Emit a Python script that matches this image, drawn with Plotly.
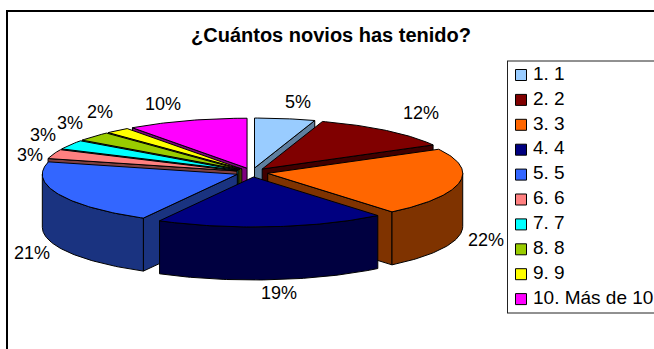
import math
import plotly.graph_objects as go

TITLE = "¿Cuántos novios has tenido?"
categories = ["1. 1", "2. 2", "3. 3", "4. 4", "5. 5", "6. 6", "7. 7", "8. 8", "9. 9", "10. Más de 10"]
values = [5, 12, 22, 19, 21, 3, 3, 3, 2, 10]
labels = ["5%", "12%", "22%", "19%", "21%", "3%", "3%", "3%", "2%", "10%"]
colors = ["#99CCFF", "#800000", "#FF6600", "#000080", "#3366FF", "#FF8080", "#00FFFF", "#99CC00", "#FFFF00", "#FF00FF"]
side_colors = ["#5F7F9F", "#400000", "#7F3300", "#000040", "#1A3380", "#804040", "#008080", "#4D6600", "#808000", "#800080"]

# Pixel-space projection of the tilted pie
CX, CY = 252.0, 172.5
RX, RY = 195.0, 50.0
EX, EY = 16.0, 4.5
DEPTH = 53.0
LABEL_XY = [(298, 103), (421, 114), (486, 241), (279, 294), (32, 254),
            (30, 156), (43, 136), (70, 124), (100, 113), (163, 105)]

def pt(tip, deg, radius=1.0, z=0.0):
    a = math.radians(deg)
    return tip[0] + RX * radius * math.sin(a), tip[1] - RY * radius * math.cos(a) + z

def arc(tip, a0, a1, z=0.0):
    n = max(2, int(abs(a1 - a0)) + 1)
    return [pt(tip, a0 + (a1 - a0) * i / n, 1.0, z) for i in range(n + 1)]

def poly(points, fill):
    xs = [p[0] for p in points] + [points[0][0]]
    ys = [p[1] for p in points] + [points[0][1]]
    return go.Scatter(x=xs, y=ys, mode="lines", fill="toself", fillcolor=fill,
                      line=dict(color="black", width=1), hoverinfo="skip", showlegend=False)

total = sum(values)
slices = []
cum = 0.0
for i, v in enumerate(values):
    a0 = 360.0 * cum / total
    cum += v
    a1 = 360.0 * cum / total
    mid = math.radians((a0 + a1) / 2)
    tip = (CX + EX * math.sin(mid), CY - EY * math.cos(mid))
    slices.append((math.cos(mid), i, a0, a1, tip))

fig = go.Figure()
for _, i, a0, a1, tip in sorted(slices, key=lambda s: -s[0]):
    side = side_colors[i]
    # radial cut faces that turn toward the viewer
    for ang, visible in ((a0, math.sin(math.radians(a0)) < 0), (a1, math.sin(math.radians(a1)) > 0)):
        if visible:
            e = pt(tip, ang)
            fig.add_trace(poly([tip, e, (e[0], e[1] + DEPTH), (tip[0], tip[1] + DEPTH)], side))
    # outer rim, visible on the front half only
    lo, hi = max(a0, 90.0), min(a1, 270.0)
    if lo < hi:
        fig.add_trace(poly(arc(tip, lo, hi) + arc(tip, hi, lo, DEPTH), side))
    fig.add_trace(poly([tip] + arc(tip, a0, a1), colors[i]))

# Percentage labels
fig.add_trace(go.Scatter(x=[p[0] for p in LABEL_XY], y=[p[1] for p in LABEL_XY], mode="text",
                         text=labels, textposition="middle center",
                         textfont=dict(family="Liberation Sans, Arial", size=18, color="black"),
                         hoverinfo="skip", showlegend=False))

# Legend
LEG_Y0, LEG_STEP = 75.0, 24.9
leg_y = [LEG_Y0 + LEG_STEP * i for i in range(len(categories))]
fig.add_trace(go.Scatter(x=[521] * len(categories), y=leg_y, mode="markers",
                         marker=dict(symbol="square", size=11, color=colors, line=dict(color="black", width=1)),
                         hoverinfo="skip", showlegend=False))
fig.add_trace(go.Scatter(x=[533] * len(categories), y=leg_y, mode="text", text=categories,
                         textposition="middle right", cliponaxis=False,
                         textfont=dict(family="Liberation Sans, Arial", size=19, color="black"),
                         hoverinfo="skip", showlegend=False))

frame = dict(color="black", width=2)
shapes = [
    dict(type="line", xref="x", yref="y", x0=7, x1=7, y0=11, y1=349, line=frame),
    dict(type="line", xref="x", yref="y", x0=6, x1=654, y0=11, y1=11, line=frame),
    dict(type="line", xref="x", yref="y", x0=507.5, x1=507.5, y0=61, y1=313, line=dict(color="#222222", width=1)),
    dict(type="line", xref="x", yref="y", x0=507, x1=654, y0=61, y1=61, line=dict(color="#222222", width=1)),
    dict(type="line", xref="x", yref="y", x0=507, x1=654, y0=313, y1=313, line=dict(color="#222222", width=1)),
]

fig.update_layout(
    width=654, height=349, margin=dict(l=0, r=0, t=0, b=0),
    paper_bgcolor="white", plot_bgcolor="white", showlegend=False, shapes=shapes,
    xaxis=dict(range=[0, 654], visible=False, fixedrange=True),
    yaxis=dict(range=[349, 0], visible=False, fixedrange=True),
    annotations=[dict(x=331, y=35, xref="x", yref="y", text="<b>" + TITLE + "</b>", showarrow=False,
                      font=dict(family="Liberation Sans, Arial", size=20, color="black"))],
)
fig.write_html("out.html", config=dict(displayModeBar=False),
               post_script="document.body.style.margin='0';document.documentElement.style.overflow='hidden';")
